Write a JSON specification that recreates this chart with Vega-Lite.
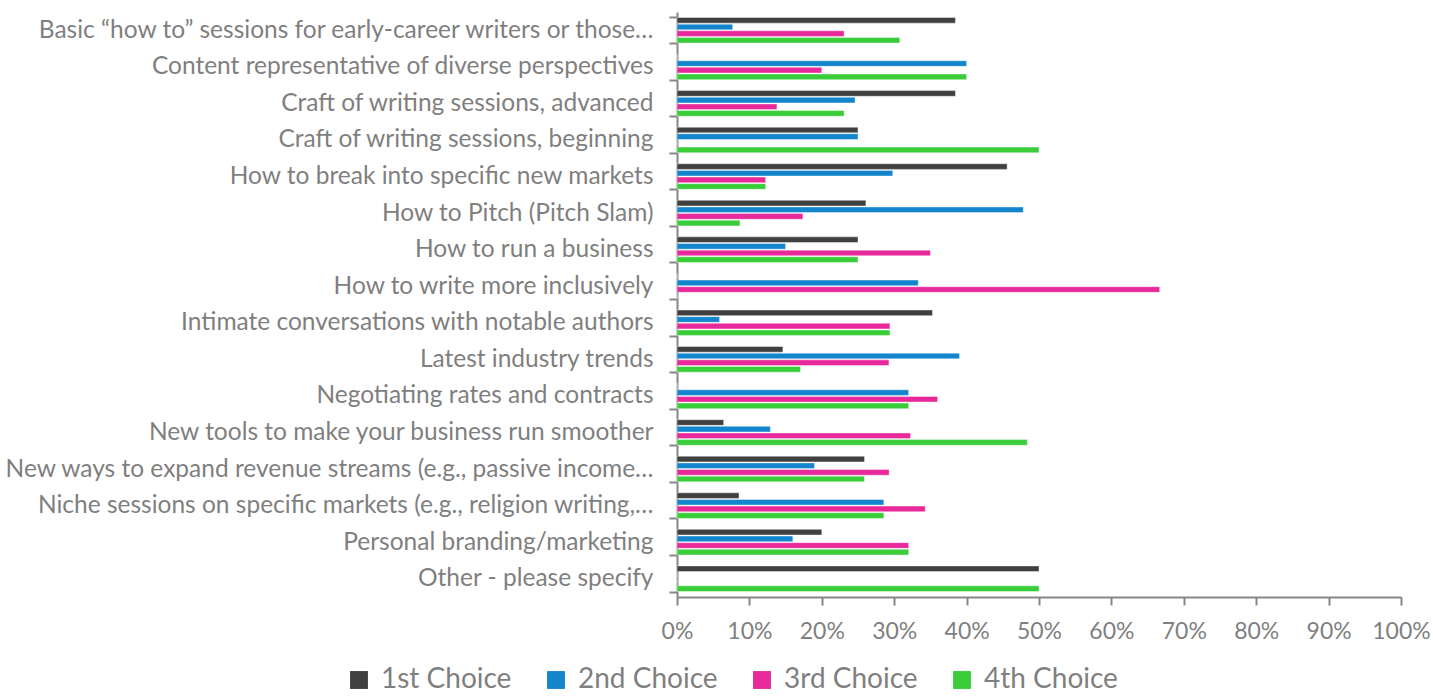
{
  "$schema": "https://vega.github.io/schema/vega-lite/v6.json",
  "width": 724,
  "height": 585,
  "autosize": {"type": "none"},
  "padding": {"left": 677, "top": 12, "right": 32, "bottom": 101},
  "background": "white",
  "config": {"view": {"stroke": null}, "font": "Lato"},
  "data": {"values": [
    {"topic": "Basic “how to” sessions for early-career writers or those…", "choice": "1st Choice", "pct": 38.46},
    {"topic": "Basic “how to” sessions for early-career writers or those…", "choice": "2nd Choice", "pct": 7.69},
    {"topic": "Basic “how to” sessions for early-career writers or those…", "choice": "3rd Choice", "pct": 23.08},
    {"topic": "Basic “how to” sessions for early-career writers or those…", "choice": "4th Choice", "pct": 30.77},
    {"topic": "Content representative of diverse perspectives", "choice": "1st Choice", "pct": 0},
    {"topic": "Content representative of diverse perspectives", "choice": "2nd Choice", "pct": 40},
    {"topic": "Content representative of diverse perspectives", "choice": "3rd Choice", "pct": 20},
    {"topic": "Content representative of diverse perspectives", "choice": "4th Choice", "pct": 40},
    {"topic": "Craft of writing sessions, advanced", "choice": "1st Choice", "pct": 38.46},
    {"topic": "Craft of writing sessions, advanced", "choice": "2nd Choice", "pct": 24.6},
    {"topic": "Craft of writing sessions, advanced", "choice": "3rd Choice", "pct": 13.8},
    {"topic": "Craft of writing sessions, advanced", "choice": "4th Choice", "pct": 23.08},
    {"topic": "Craft of writing sessions, beginning", "choice": "1st Choice", "pct": 25},
    {"topic": "Craft of writing sessions, beginning", "choice": "2nd Choice", "pct": 25},
    {"topic": "Craft of writing sessions, beginning", "choice": "3rd Choice", "pct": 0},
    {"topic": "Craft of writing sessions, beginning", "choice": "4th Choice", "pct": 50},
    {"topic": "How to break into specific new markets", "choice": "1st Choice", "pct": 45.6},
    {"topic": "How to break into specific new markets", "choice": "2nd Choice", "pct": 29.8},
    {"topic": "How to break into specific new markets", "choice": "3rd Choice", "pct": 12.25},
    {"topic": "How to break into specific new markets", "choice": "4th Choice", "pct": 12.25},
    {"topic": "How to Pitch (Pitch Slam)", "choice": "1st Choice", "pct": 26.09},
    {"topic": "How to Pitch (Pitch Slam)", "choice": "2nd Choice", "pct": 47.83},
    {"topic": "How to Pitch (Pitch Slam)", "choice": "3rd Choice", "pct": 17.39},
    {"topic": "How to Pitch (Pitch Slam)", "choice": "4th Choice", "pct": 8.7},
    {"topic": "How to run a business", "choice": "1st Choice", "pct": 25},
    {"topic": "How to run a business", "choice": "2nd Choice", "pct": 15},
    {"topic": "How to run a business", "choice": "3rd Choice", "pct": 35},
    {"topic": "How to run a business", "choice": "4th Choice", "pct": 25},
    {"topic": "How to write more inclusively", "choice": "1st Choice", "pct": 0},
    {"topic": "How to write more inclusively", "choice": "2nd Choice", "pct": 33.33},
    {"topic": "How to write more inclusively", "choice": "3rd Choice", "pct": 66.67},
    {"topic": "How to write more inclusively", "choice": "4th Choice", "pct": 0},
    {"topic": "Intimate conversations with notable authors", "choice": "1st Choice", "pct": 35.29},
    {"topic": "Intimate conversations with notable authors", "choice": "2nd Choice", "pct": 5.88},
    {"topic": "Intimate conversations with notable authors", "choice": "3rd Choice", "pct": 29.41},
    {"topic": "Intimate conversations with notable authors", "choice": "4th Choice", "pct": 29.41},
    {"topic": "Latest industry trends", "choice": "1st Choice", "pct": 14.63},
    {"topic": "Latest industry trends", "choice": "2nd Choice", "pct": 39.02},
    {"topic": "Latest industry trends", "choice": "3rd Choice", "pct": 29.27},
    {"topic": "Latest industry trends", "choice": "4th Choice", "pct": 17.07},
    {"topic": "Negotiating rates and contracts", "choice": "1st Choice", "pct": 0},
    {"topic": "Negotiating rates and contracts", "choice": "2nd Choice", "pct": 32},
    {"topic": "Negotiating rates and contracts", "choice": "3rd Choice", "pct": 36},
    {"topic": "Negotiating rates and contracts", "choice": "4th Choice", "pct": 32},
    {"topic": "New tools to make your business run smoother", "choice": "1st Choice", "pct": 6.45},
    {"topic": "New tools to make your business run smoother", "choice": "2nd Choice", "pct": 12.9},
    {"topic": "New tools to make your business run smoother", "choice": "3rd Choice", "pct": 32.26},
    {"topic": "New tools to make your business run smoother", "choice": "4th Choice", "pct": 48.39},
    {"topic": "New ways to expand revenue streams (e.g., passive income…", "choice": "1st Choice", "pct": 25.9},
    {"topic": "New ways to expand revenue streams (e.g., passive income…", "choice": "2nd Choice", "pct": 19.0},
    {"topic": "New ways to expand revenue streams (e.g., passive income…", "choice": "3rd Choice", "pct": 29.3},
    {"topic": "New ways to expand revenue streams (e.g., passive income…", "choice": "4th Choice", "pct": 25.9},
    {"topic": "Niche sessions on specific markets (e.g., religion writing,…", "choice": "1st Choice", "pct": 8.57},
    {"topic": "Niche sessions on specific markets (e.g., religion writing,…", "choice": "2nd Choice", "pct": 28.57},
    {"topic": "Niche sessions on specific markets (e.g., religion writing,…", "choice": "3rd Choice", "pct": 34.29},
    {"topic": "Niche sessions on specific markets (e.g., religion writing,…", "choice": "4th Choice", "pct": 28.57},
    {"topic": "Personal branding/marketing", "choice": "1st Choice", "pct": 20},
    {"topic": "Personal branding/marketing", "choice": "2nd Choice", "pct": 16},
    {"topic": "Personal branding/marketing", "choice": "3rd Choice", "pct": 32},
    {"topic": "Personal branding/marketing", "choice": "4th Choice", "pct": 32},
    {"topic": "Other - please specify", "choice": "1st Choice", "pct": 50},
    {"topic": "Other - please specify", "choice": "2nd Choice", "pct": 0},
    {"topic": "Other - please specify", "choice": "3rd Choice", "pct": 0},
    {"topic": "Other - please specify", "choice": "4th Choice", "pct": 50}
  ]},
  "mark": {"type": "bar", "stroke": "white", "strokeWidth": 0.6, "strokeOpacity": 0.7},
  "encoding": {
    "y": {
      "field": "topic", "type": "nominal", "sort": null, "title": null,
      "scale": {"paddingInner": 0.3, "paddingOuter": 0.15},
      "axis": {
        "domainColor": "#868686", "domainWidth": 2, "tickColor": "#868686", "tickWidth": 2,
        "tickSize": 8, "tickBand": "extent", "labelLimit": 700, "labelFontSize": 24.5,
        "labelColor": "#7F7F7F", "labelPadding": 16, "labelFont": "Lato", "labelBaseline": "middle"
      }
    },
    "yOffset": {"field": "choice", "type": "nominal", "sort": ["1st Choice", "2nd Choice", "3rd Choice", "4th Choice"], "scale": {"paddingInner": 0.15}},
    "x": {
      "field": "pct", "type": "quantitative", "title": null,
      "scale": {"domain": [0, 100]},
      "axis": {
        "values": [0, 10, 20, 30, 40, 50, 60, 70, 80, 90, 100],
        "labelExpr": "datum.value + '%'", "labelFlush": false, "labelOverlap": false,
        "grid": false, "domainColor": "#868686", "domainWidth": 2, "tickColor": "#868686",
        "tickWidth": 2, "tickSize": 8, "labelFontSize": 23, "labelColor": "#7F7F7F",
        "labelPadding": 15, "labelFont": "Lato"
      }
    },
    "color": {
      "field": "choice", "type": "nominal", "title": null,
      "scale": {"domain": ["1st Choice", "2nd Choice", "3rd Choice", "4th Choice"], "range": ["#404040", "#1385CD", "#E8299A", "#3ACD3A"]},
      "legend": {
        "orient": "none", "direction": "horizontal", "legendX": -332, "legendY": 654,
        "symbolType": "square", "symbolSize": 320, "symbolStrokeWidth": 0,
        "labelFontSize": 28, "labelColor": "#7F7F7F", "labelFont": "Lato",
        "columnPadding": 30, "symbolOffset": 0, "labelOffset": 8
      }
    }
  }
}
